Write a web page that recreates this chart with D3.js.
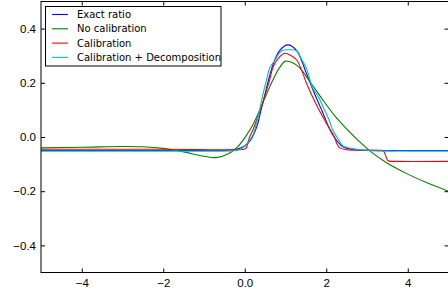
<!DOCTYPE html>
<html>
<head>
<meta charset="utf-8">
<script src="https://cdn.jsdelivr.net/npm/d3@7"></script>
<style>
  body { margin: 0; background: #fff; }
  svg { display: block; font-family: 'DejaVu Sans', sans-serif; }
</style>
</head>
<body>
<script>
// Series data
const exactX = [-5, -3, -1, -0.4, -0.2, 0, 0.15, 0.3, 0.4, 0.5, 0.6, 0.7, 0.86, 1.06, 1.27, 1.4, 1.5, 1.67, 1.9, 2.15, 2.4, 2.7, 3, 4, 5]
const exactY = [-0.05, -0.05, -0.05, -0.049, -0.045, -0.033, -0.01, 0.04, 0.1, 0.16, 0.22, 0.27, 0.32, 0.34, 0.32, 0.28, 0.24, 0.175, 0.095, 0.01, -0.035, -0.047, -0.05, -0.05, -0.05]

const noCalX = [-5, -4, -3, -2.5, -2, -1.5, -1, -0.7, -0.4, -0.2, 0, 0.2, 0.44, 0.69, 0.85, 1.0, 1.2, 1.35, 1.6, 1.9, 2.2, 2.5, 2.8, 3.1, 3.5, 4, 4.5, 5]
const noCalY = [-0.040, -0.038, -0.035, -0.036, -0.042, -0.055, -0.071, -0.076, -0.062, -0.04, -0.003, 0.045, 0.125, 0.21, 0.255, 0.28, 0.272, 0.255, 0.204, 0.14, 0.08, 0.03, -0.015, -0.055, -0.097, -0.137, -0.171, -0.2]

const calX = [-5, -2, 0, 0.04, 0.08, 0.12, 0.2, 0.32, 0.44, 0.53, 0.61, 0.7, 0.85, 0.98, 1.12, 1.27, 1.4, 1.51, 1.76, 2.0, 2.2, 2.26, 2.33, 2.5, 3.0, 3.3, 3.4, 3.46, 3.5, 3.55, 3.7, 5]
const calY = [-0.045, -0.045, -0.044, -0.04, -0.02, 0.0, 0.026, 0.075, 0.125, 0.17, 0.21, 0.26, 0.295, 0.309, 0.302, 0.285, 0.245, 0.2, 0.118, 0.052, 0.0, -0.025, -0.04, -0.047, -0.048, -0.049, -0.051, -0.07, -0.085, -0.089, -0.09, -0.09]

const decoX = [-5, -1, -0.3, -0.1, 0.05, 0.2, 0.35, 0.45, 0.55, 0.61, 0.75, 0.85, 0.94, 1.1, 1.27, 1.4, 1.51, 1.67, 1.8, 1.92, 2.05, 2.16, 2.28, 2.41, 2.6, 2.99, 4, 5]
const decoY = [-0.052, -0.052, -0.051, -0.045, -0.025, 0.007, 0.09, 0.16, 0.22, 0.255, 0.285, 0.31, 0.32, 0.322, 0.318, 0.285, 0.255, 0.18, 0.15, 0.112, 0.07, 0.026, -0.005, -0.033, -0.042, -0.049, -0.052, -0.052]

const seriesNames = ['Exact ratio', 'No calibration', 'Calibration', 'Calibration + Decomposition']
const seriesColors = ['#0000ff', '#008000', '#ff0000', '#00bfbf']
const xTicks = [-4, -2, 0, 2, 4]
const yTicks = [-0.4, -0.2, 0, 0.2, 0.4]

const series = [[exactX, exactY], [noCalX, noCalY], [calX, calY], [decoX, decoY]]
  .map(([xs, ys], i) => ({name: seriesNames[i], color: seriesColors[i], pts: xs.map((x, j) => [x, ys[j]])}))

const margin = {top: 1.5, left: 41}
const width = 407.5
const height = 271

const svg = d3.select('body').append('svg')
  .attr('width', 448)
  .attr('height', 299)

const g = svg.append('g')
  .attr('transform', `translate(${margin.left},${margin.top})`)

const x = d3.scaleLinear().domain([-5, 5]).range([0, width])
const y = d3.scaleLinear().domain([-0.5, 0.5]).range([height, 0])

const fmt = (d) => (d < 0 ? '\u2212' : '') + (Number.isInteger(d) && Math.abs(d) >= 1 ? Math.abs(d) : d3.format('.1f')(Math.abs(d)))

// clip
svg.append('clipPath').attr('id', 'clip')
  .append('rect').attr('width', width).attr('height', height)

const line = d3.line()
  .x((d) => x(d[0]))
  .y((d) => y(d[1]))
  .curve(d3.curveCatmullRom.alpha(0.5))

g.append('g').attr('clip-path', 'url(#clip)')
  .selectAll('path').data(series).join('path')
  .attr('d', (d) => line(d.pts))
  .attr('fill', 'none')
  .attr('stroke', (d) => d.color)
  .attr('stroke-width', 1.1)

// axes, ticks inward on every side
const styleAxis = (sel) => {
  sel.select('.domain').remove()
  sel.selectAll('line').attr('stroke', '#000').attr('stroke-width', 1)
  sel.selectAll('text').attr('fill', '#000').style('font-size', '11.5px')
}
g.append('g').attr('transform', `translate(0,${height})`)
  .call(d3.axisBottom(x).tickValues(xTicks).tickFormat(fmt).tickSizeInner(-4).tickSizeOuter(0).tickPadding(6))
  .call(styleAxis)
g.append('g')
  .call(d3.axisTop(x).tickValues(xTicks).tickFormat('').tickSizeInner(-4).tickSizeOuter(0))
  .call(styleAxis)
g.append('g')
  .call(d3.axisLeft(y).tickValues(yTicks).tickFormat(fmt).tickSizeInner(-4).tickSizeOuter(0).tickPadding(5))
  .call(styleAxis)
g.append('g').attr('transform', `translate(${width},0)`)
  .call(d3.axisRight(y).tickValues(yTicks).tickFormat('').tickSizeInner(-4).tickSizeOuter(0))
  .call(styleAxis)

g.append('rect')
  .attr('width', width).attr('height', height)
  .attr('fill', 'none').attr('stroke', '#000').attr('stroke-width', 1)

// legend
const legend = svg.append('g').attr('transform', 'translate(45.5,6.5)')
legend.append('rect')
  .attr('width', 175.5).attr('height', 59.5)
  .attr('fill', '#fff').attr('stroke', '#000').attr('stroke-width', 1)
const item = legend.selectAll('g.item').data(series).join('g')
  .attr('class', 'item')
  .attr('transform', (d, i) => `translate(0,${8 + i * 14.3})`)
item.append('line')
  .attr('x1', 6.5).attr('x2', 22.5)
  .attr('stroke', (d) => d.color).attr('stroke-width', 1.1)
item.append('text')
  .attr('x', 31.5).attr('dy', '0.35em')
  .style('font-size', '10px')
  .text((d) => d.name)
</script>
</body>
</html>
